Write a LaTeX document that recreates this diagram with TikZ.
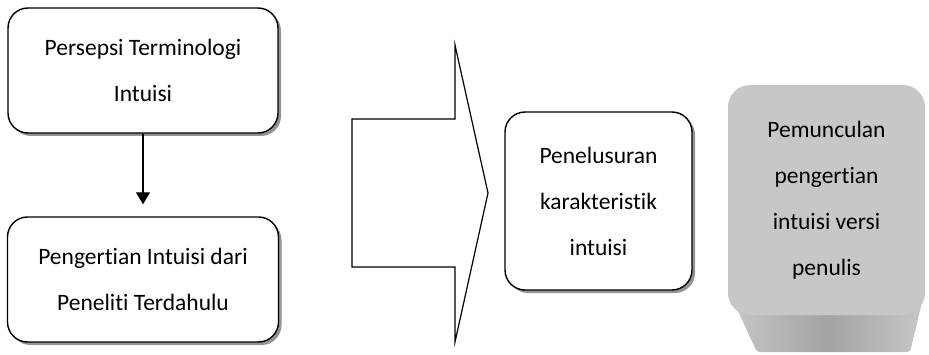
\documentclass[tikz,border=0pt]{standalone}
\usepackage{fontspec}
\setmainfont{Carlito}[Ligatures={NoCommon}]
\usetikzlibrary{arrows.meta,shadows}

\tikzset{
  kasten/.style={draw=black,line width=1.4pt,fill=white,rounded corners=20pt,
    align=center,inner sep=0pt,
    drop shadow={shadow xshift=3pt,shadow yshift=-3pt,fill=black!70,opacity=0.6}},
  schrift/.style={font=\fontsize{23.5}{46}\selectfont}
}

\begin{document}
\begin{tikzpicture}[x=1pt,y=1pt]
       \useasboundingbox (0,0) rectangle (929,354);
       % linke Spalte
       \node[kasten,schrift,minimum width=270pt,minimum height=125pt] (persepsi) at (143,283.5)
         {Persepsi Terminologi\\Intuisi};
       \node[kasten,schrift,minimum width=271pt,minimum height=125pt] (pengertian) at (143,74.5)
         {Pengertian Intuisi dari\\Peneliti Terdahulu};
       \draw[line width=1.2pt,-{Triangle[width=14pt,length=12pt]},shorten >=12pt]
         (persepsi.south) -- (pengertian.north);
       % Blockpfeil
       \draw[line width=1.2pt,line join=miter,fill=white]
         (352,235) -- (455,235) -- (455,309) -- (488,161) -- (455,12) -- (455,87) -- (352,87) -- cycle;
       % Mitte
       \node[kasten,schrift,minimum width=187pt,minimum height=178pt] (penelusuran) at (598.5,153)
         {Penelusuran\\karakteristik\\intuisi};
       % rechter Kasten, abgesetzt
       \shade[left color=black!22,right color=black!22,middle color=black!36,rounded corners=3pt]
         (730,60) -- (757,2) -- (910,2) -- (924,60) -- cycle;
       \node[fill=black!22,rounded corners=22pt,minimum width=197pt,minimum height=230pt,
         schrift,align=center,inner sep=0pt] (pemunculan) at (826.5,154)
         {Pemunculan\\pengertian\\intuisi versi\\penulis};
\end{tikzpicture}
\end{document}
